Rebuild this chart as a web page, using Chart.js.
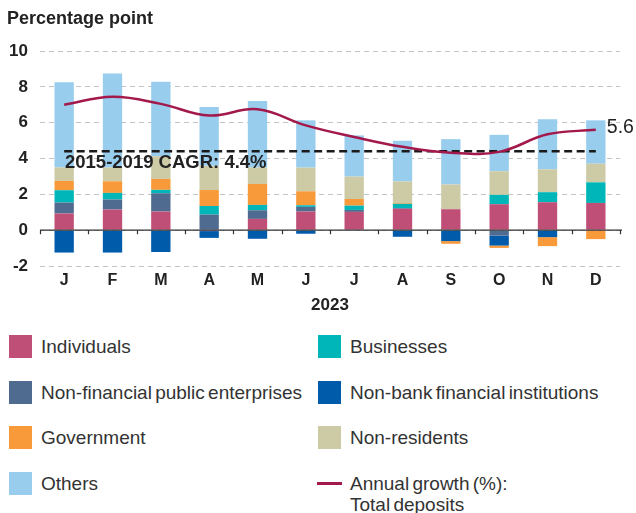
<!DOCTYPE html>
<html>
<head>
<meta charset="utf-8">
<script src="https://cdn.jsdelivr.net/npm/chart.js@4"></script>
<style>
  body { margin: 0; background: #fff; }
  #wrap { position: relative; width: 636px; height: 513px; overflow: hidden; }
  #chart { position: absolute; left: 0; top: 0; }
  .legend { position: absolute; font-family: "Liberation Sans", Arial, sans-serif; font-size: 19px; word-spacing: -2px; color: #333; line-height: 21px; }
  .legend .sw { position: absolute; left: 0; top: 0; width: 23px; height: 23px; }
  .legend .ln { position: absolute; left: 0; top: 10px; width: 25px; height: 2.5px; }
  .legend .tx { position: absolute; left: 32px; top: 1px; white-space: nowrap; }
</style>
</head>
<body>
<div id="wrap">
  <canvas id="chart" width="636" height="320"></canvas>
  <div id="legend"></div>
</div>
<script>
const months = ['J', 'F', 'M', 'A', 'M', 'J', 'J', 'A', 'S', 'O', 'N', 'D'];

// contributions to deposit growth, percentage points
const individuals = [0.93, 1.15, 1.04, -0.05, 0.63, 1.04, 1.02, 1.19, 1.17, 1.45, 1.56, 1.52];
const publicEnterprises = [0.61, 0.56, 1.02, 0.87, 0.48, 0.26, 0.11, 0.04, 0, -0.3, 0, 0];
const businesses = [0.69, 0.37, 0.19, 0.48, 0.30, 0.09, 0.24, 0.24, 0, 0.52, 0.56, 1.15];
const nonBankFinancial = [-1.25, -1.25, -1.22, -0.38, -0.48, -0.2, 0, -0.37, -0.61, -0.56, -0.39, 0];
const government = [0.52, 0.65, 0.61, 0.89, 1.17, 0.78, 0.37, 0.04, -0.15, -0.13, -0.5, -0.5];
const nonResidents = [0.75, 0.77, 1.27, 1.35, 0.92, 1.32, 1.25, 1.21, 1.38, 1.32, 1.28, 1.04];
const others = [4.75, 5.24, 4.16, 3.28, 3.71, 2.64, 2.3, 2.27, 2.53, 2.03, 2.79, 2.42];

// annual growth of total deposits, %
const totalGrowth = [7.0, 7.45, 7.05, 6.4, 6.75, 5.85, 5.2, 4.65, 4.32, 4.37, 5.35, 5.6];
const cagr = 4.4;

const yTicks = [-2, 0, 2, 4, 6, 8, 10];

const colors = {
    individuals: '#c04f78',
    publicEnterprises: '#4f6b8f',
    businesses: '#00b6b9',
    nonBankFinancial: '#005bab',
    government: '#f89a3a',
    nonResidents: '#cdcaa6',
    others: '#99cdee',
    growth: '#a3194b'
};

const bar = (label, data, color) => ({
    type: 'bar',
    label: label,
    data: data,
    backgroundColor: color,
    stack: 'contrib',
    order: 3,
    barPercentage: 0.4,
    categoryPercentage: 1
});

const datasets = [
    bar('Individuals', individuals, colors.individuals),
    bar('Non-financial public enterprises', publicEnterprises, colors.publicEnterprises),
    bar('Businesses', businesses, colors.businesses),
    bar('Non-bank financial institutions', nonBankFinancial, colors.nonBankFinancial),
    bar('Government', government, colors.government),
    bar('Non-residents', nonResidents, colors.nonResidents),
    bar('Others', others, colors.others),
    {
        type: 'line',
        label: 'Annual growth (%): Total deposits',
        data: totalGrowth,
        borderColor: colors.growth,
        borderWidth: 2.5,
        tension: 0.4,
        pointRadius: 0,
        stack: 'growth',
        order: 1
    },
    {
        type: 'line',
        label: '2015-2019 CAGR',
        data: months.map(() => cagr),
        borderColor: '#1a1a1a',
        borderWidth: 2.5,
        borderDash: [8, 4.5],
        pointRadius: 0,
        stack: 'cagr',
        order: 2
    }
];

// zero line with small ticks between months, plus the free-standing texts
const extras = {
    id: 'extras',
    afterDatasetsDraw(chart) {
        const { ctx, chartArea, scales } = chart;
        const y0 = scales.y.getPixelForValue(0);
        const step = (chartArea.right - chartArea.left) / months.length;
        ctx.save();
        ctx.strokeStyle = '#333';
        ctx.lineWidth = 1.2;
        ctx.beginPath();
        ctx.moveTo(chartArea.left, y0);
        ctx.lineTo(chartArea.right + 2, y0);
        for (let i = 0; i <= months.length; i++) {
            const x = Math.round(chartArea.left + i * step) + 0.5;
            ctx.moveTo(x, y0);
            ctx.lineTo(x, y0 + 4);
        }
        ctx.stroke();

        ctx.fillStyle = '#222';
        ctx.textBaseline = 'middle';
        ctx.font = 'bold 18.5px "Liberation Sans", Arial, sans-serif';
        ctx.fillText('2015-2019 CAGR: 4.4%', 65, 163);

        const last = chart.getDatasetMeta(7).data[months.length - 1];
        ctx.font = '19.5px "Liberation Sans", Arial, sans-serif';
        ctx.fillText(totalGrowth[totalGrowth.length - 1].toFixed(1), last.x + 11, last.y - 2);

        ctx.font = 'bold 18px "Liberation Sans", Arial, sans-serif';
        ctx.fillText('Percentage point', 7, 19);

        ctx.textAlign = 'center';
        ctx.font = 'bold 17px "Liberation Sans", Arial, sans-serif';
        ctx.fillText('2023', (chartArea.left + chartArea.right) / 2, 305);
        ctx.restore();
    }
};

new Chart(document.getElementById('chart'), {
    data: { labels: months, datasets: datasets },
    options: {
        responsive: false,
        animation: false,
        devicePixelRatio: 1,
        layout: { padding: { top: 51, right: 16, left: 0, bottom: 0 } },
        plugins: { legend: { display: false }, tooltip: { enabled: false } },
        scales: {
            x: {
                stacked: true,
                grid: { display: false, drawTicks: false },
                border: { display: false },
                ticks: {
                    color: '#222',
                    padding: 5,
                    font: { family: '"Liberation Sans", Arial', size: 16, weight: 'bold' }
                },
                afterFit: (scale) => { scale.height = 54; }
            },
            y: {
                stacked: true,
                min: -2,
                max: 10,
                afterBuildTicks: (scale) => { scale.ticks = yTicks.map(v => ({ value: v })); },
                grid: { color: '#c4c4c4', lineWidth: 1, drawTicks: false },
                border: { display: false, dash: [5, 4] },
                ticks: {
                    color: '#222',
                    padding: 12,
                    font: { family: '"Liberation Sans", Arial', size: 17, weight: 'bold' }
                },
                afterFit: (scale) => { scale.width = 40; }
            }
        }
    },
    plugins: [extras]
});

// two-column legend below the chart
const legendItems = [
    ['Individuals', colors.individuals, 9, 335],
    ['Businesses', colors.businesses, 318, 335],
    ['Non-financial public enterprises', colors.publicEnterprises, 9, 381],
    ['Non-bank financial institutions', colors.nonBankFinancial, 318, 381],
    ['Government', colors.government, 9, 426],
    ['Non-residents', colors.nonResidents, 318, 426],
    ['Others', colors.others, 9, 472]
];
const legend = document.getElementById('legend');
legendItems.forEach(([label, color, x, y]) => {
    const item = document.createElement('div');
    item.className = 'legend';
    item.style.left = x + 'px';
    item.style.top = y + 'px';
    item.innerHTML = '<div class="sw" style="background:' + color + '"></div><div class="tx">' + label + '</div>';
    legend.appendChild(item);
});
const growthItem = document.createElement('div');
growthItem.className = 'legend';
growthItem.style.left = '317px';
growthItem.style.top = '472px';
growthItem.innerHTML = '<div class="ln" style="background:' + colors.growth + '"></div><div class="tx" style="left:33px">Annual growth (%):<br>Total deposits</div>';
legend.appendChild(growthItem);
</script>
</body>
</html>
